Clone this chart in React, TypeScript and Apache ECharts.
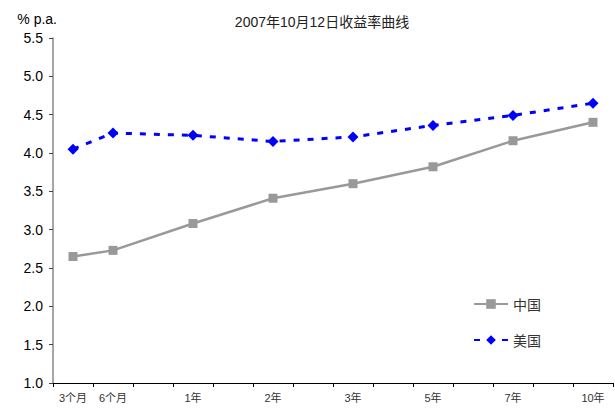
import React, { useEffect, useRef } from "react";
import * as echarts from "echarts";

// Tenor slots along the x axis; blank slots keep the spacing of the longer tenors
const categories = ["3个月", "6个月", "", "1年", "", "2年", "", "3年", "", "5年", "", "7年", "", "10年"];
const chinaYield = [2.65, 2.73, null, 3.08, null, 3.41, null, 3.6, null, 3.82, null, 4.16, null, 4.4];
const usYield = [4.05, 4.26, null, 4.23, null, 4.15, null, 4.21, null, 4.36, null, 4.49, null, 4.65];
const titleText = "2007年10月12日收益率曲线";
const yAxisName = "% p.a.";

const FONT = "Liberation Sans, Arial, Noto Sans CJK SC, sans-serif";

export default function App() {
  const ref = useRef<HTMLDivElement>(null);

  useEffect(() => {
    if (!ref.current) return;
    const chart = echarts.init(ref.current, undefined, { renderer: "svg" });
    chart.setOption({
      animation: false,
      backgroundColor: "#ffffff",
      title: {
        text: titleText,
        left: 317,
        textAlign: "center",
        top: 10,
        textStyle: { fontSize: 14, fontWeight: "normal", color: "#222", fontFamily: FONT },
      },
      legend: {
        orient: "vertical",
        left: 468,
        top: 292,
        itemWidth: 34,
        itemHeight: 12,
        itemGap: 22,
        textStyle: { fontSize: 14, color: "#333", fontFamily: "Noto Sans CJK SC, sans-serif" },
        data: ["中国", "美国"],
      },
      grid: { left: 53, right: 2, top: 38, bottom: 25, containLabel: false },
      xAxis: {
        type: "category",
        data: categories,
        boundaryGap: true,
        axisLine: { lineStyle: { color: "#000", width: 1 } },
        axisTick: { show: true, interval: 0, length: 4, lineStyle: { color: "#000" } },
        axisLabel: {
          interval: 0,
          fontSize: 11,
          color: "#333",
          margin: 9,
          fontFamily: FONT,
        },
        splitLine: { show: false },
      },
      yAxis: {
        type: "value",
        min: 1,
        max: 5.5,
        interval: 0.5,
        name: yAxisName,
        nameLocation: "end",
        nameGap: 12,
        nameTextStyle: { fontSize: 14, color: "#000", fontFamily: FONT, align: "right", padding: [0, -4, 0, 0] },
        axisLine: { show: true, lineStyle: { color: "#888", width: 1.5 } },
        axisTick: { show: true, length: 4, lineStyle: { color: "#444" } },
        axisLabel: {
          fontSize: 14,
          color: "#000",
          margin: 10,
          fontFamily: FONT,
          formatter: (v: number) => v.toFixed(1),
        },
        splitLine: { show: false },
      },
      series: [
        {
          name: "中国",
          type: "line",
          data: chinaYield,
          connectNulls: true,
          symbol: "rect",
          symbolSize: 9,
          showAllSymbol: true,
          itemStyle: { color: "#999999" },
          lineStyle: { color: "#999999", width: 2.5 },
        },
        {
          name: "美国",
          type: "line",
          data: usYield,
          connectNulls: true,
          symbol: "diamond",
          symbolSize: 11,
          showAllSymbol: true,
          itemStyle: { color: "#0000ff" },
          lineStyle: { color: "#0000ff", width: 3, type: [6, 8] },
        },
      ],
    });
    return () => chart.dispose();
  }, []);

  return <div ref={ref} style={{ width: 615, height: 408, position: "absolute", left: 0, top: 0 }} />;
}
